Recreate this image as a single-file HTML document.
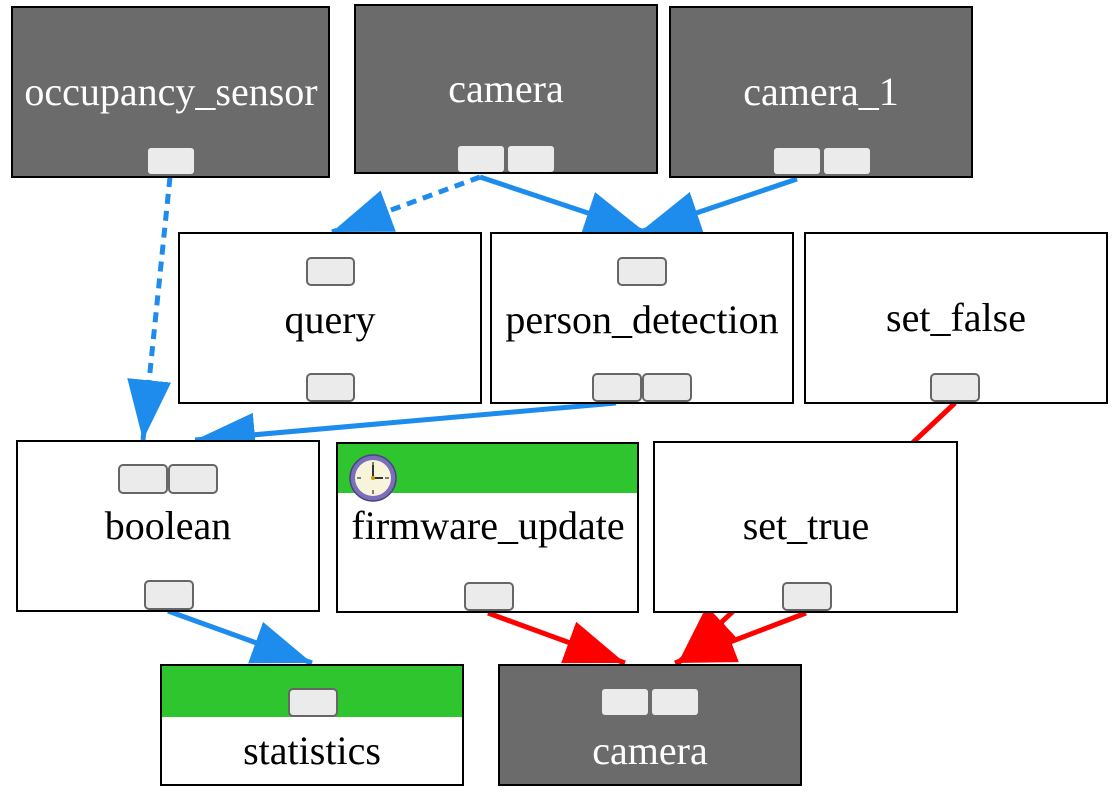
<!DOCTYPE html>
<html><head><meta charset="utf-8"><style>
html,body{margin:0;padding:0;background:#fff;}
svg{display:block;}
svg text{font-family:"Liberation Serif","Times New Roman",Times,serif;font-size:40px;text-anchor:middle;}
</style></head><body>
<svg width="1120" height="798" viewBox="0 0 1120 798" xmlns="http://www.w3.org/2000/svg">
<defs>
<marker id="b" markerUnits="userSpaceOnUse" markerWidth="62" markerHeight="46" refX="60" refY="22" orient="auto"><path d="M0,0 L60,22 L0,44 z" fill="#1e8ced"/></marker>
<marker id="r" markerUnits="userSpaceOnUse" markerWidth="62" markerHeight="46" refX="60" refY="22" orient="auto"><path d="M0,0 L60,22 L0,44 z" fill="#ff0000"/></marker>
</defs>
<g stroke-width="5" fill="none">
<line x1="480" y1="177" x2="332" y2="232" stroke="#1e8ced" stroke-dasharray="10,7" marker-end="url(#b)"/>
<line x1="480" y1="177" x2="645" y2="232" stroke="#1e8ced" marker-end="url(#b)"/>
<line x1="797" y1="179" x2="640" y2="232" stroke="#1e8ced" marker-end="url(#b)"/>
<line x1="170" y1="177" x2="143" y2="440" stroke="#1e8ced" stroke-dasharray="10,7" marker-end="url(#b)"/>
<line x1="616" y1="403" x2="195" y2="440" stroke="#1e8ced" marker-end="url(#b)"/>
<line x1="168" y1="611" x2="312" y2="663" stroke="#1e8ced" marker-end="url(#b)"/>
<line x1="955" y1="403" x2="678" y2="663" stroke="#ff0000" marker-end="url(#r)"/>
<line x1="488" y1="613" x2="625" y2="663" stroke="#ff0000" marker-end="url(#r)"/>
<line x1="806" y1="613" x2="675" y2="663" stroke="#ff0000" marker-end="url(#r)"/>
</g>
<g stroke="#000" stroke-width="2">
<rect x="12" y="7" width="317" height="170" fill="#6b6b6b"/>
<rect x="355" y="5" width="302" height="168" fill="#6b6b6b"/>
<rect x="670" y="7" width="302" height="170" fill="#6b6b6b"/>
<rect x="179" y="233" width="302" height="170" fill="#fff"/>
<rect x="491" y="233" width="302" height="170" fill="#fff"/>
<rect x="805" y="233" width="302" height="170" fill="#fff"/>
<rect x="17" y="441" width="302" height="170" fill="#fff"/>
<rect x="337" y="443" width="301" height="169" fill="#fff"/>
<rect x="654" y="442" width="303" height="170" fill="#fff"/>
<rect x="161" y="665" width="302" height="120" fill="#fff"/>
<rect x="499" y="665" width="302" height="120" fill="#6b6b6b"/>
</g>
<rect x="338" y="444" width="299" height="49" fill="#2fc52f"/>
<rect x="162" y="666" width="300" height="51" fill="#2fc52f"/>
<g fill="#ebebeb">
<rect x="148" y="148" width="46" height="26" rx="3"/>
<rect x="458" y="146" width="46" height="26" rx="3"/>
<rect x="508" y="146" width="46" height="26" rx="3"/>
<rect x="774" y="148" width="46" height="26" rx="3"/>
<rect x="824" y="148" width="46" height="26" rx="3"/>
<rect x="602" y="689" width="46" height="26" rx="3"/>
<rect x="652" y="689" width="46" height="26" rx="3"/>
</g>
<g fill="#ebebeb" stroke="#666" stroke-width="2">
<rect x="307" y="258" width="47" height="27" rx="4"/>
<rect x="307" y="374" width="47" height="27" rx="4"/>
<rect x="618" y="258" width="48" height="27" rx="4"/>
<rect x="593" y="374" width="48" height="27" rx="4"/>
<rect x="643" y="374" width="48" height="27" rx="4"/>
<rect x="931" y="374" width="48" height="27" rx="4"/>
<rect x="119" y="465" width="48" height="28" rx="4"/>
<rect x="169" y="465" width="48" height="28" rx="4"/>
<rect x="145" y="581" width="48" height="28" rx="4"/>
<rect x="465" y="583" width="48" height="27" rx="4"/>
<rect x="783" y="583" width="48" height="27" rx="4"/>
<rect x="289" y="689" width="48" height="27" rx="4"/>
</g>
<g>
<circle cx="373" cy="478" r="23" fill="#7a6fb8" stroke="#4a4380" stroke-width="1.5"/>
<circle cx="373" cy="478" r="18" fill="#f8f4dc"/>
<g stroke="#555" stroke-width="1.5">
<line x1="373" y1="462" x2="373" y2="466"/><line x1="373" y1="490" x2="373" y2="494"/>
<line x1="357" y1="478" x2="361" y2="478"/><line x1="385" y1="478" x2="389" y2="478"/>
<line x1="373" y1="478" x2="373" y2="465" stroke="#333" stroke-width="2"/>
<line x1="373" y1="478" x2="383" y2="478" stroke="#333" stroke-width="2"/>
</g>
<circle cx="373" cy="478" r="2" fill="#c9a000"/>
</g>
<g fill="#fff" font-family="Liberation Serif, serif">
<text x="171" y="105">occupancy_sensor</text>
<text x="506" y="102">camera</text>
<text x="821" y="105">camera_1</text>
<text x="650" y="764">camera</text>
</g>
<g fill="#000" font-family="Liberation Serif, serif">
<text x="330" y="333">query</text>
<text x="642" y="333">person_detection</text>
<text x="956" y="331">set_false</text>
<text x="168" y="539">boolean</text>
<text x="488" y="539">firmware_update</text>
<text x="806" y="539">set_true</text>
<text x="312" y="764">statistics</text>
</g>
</svg>
</body></html>
